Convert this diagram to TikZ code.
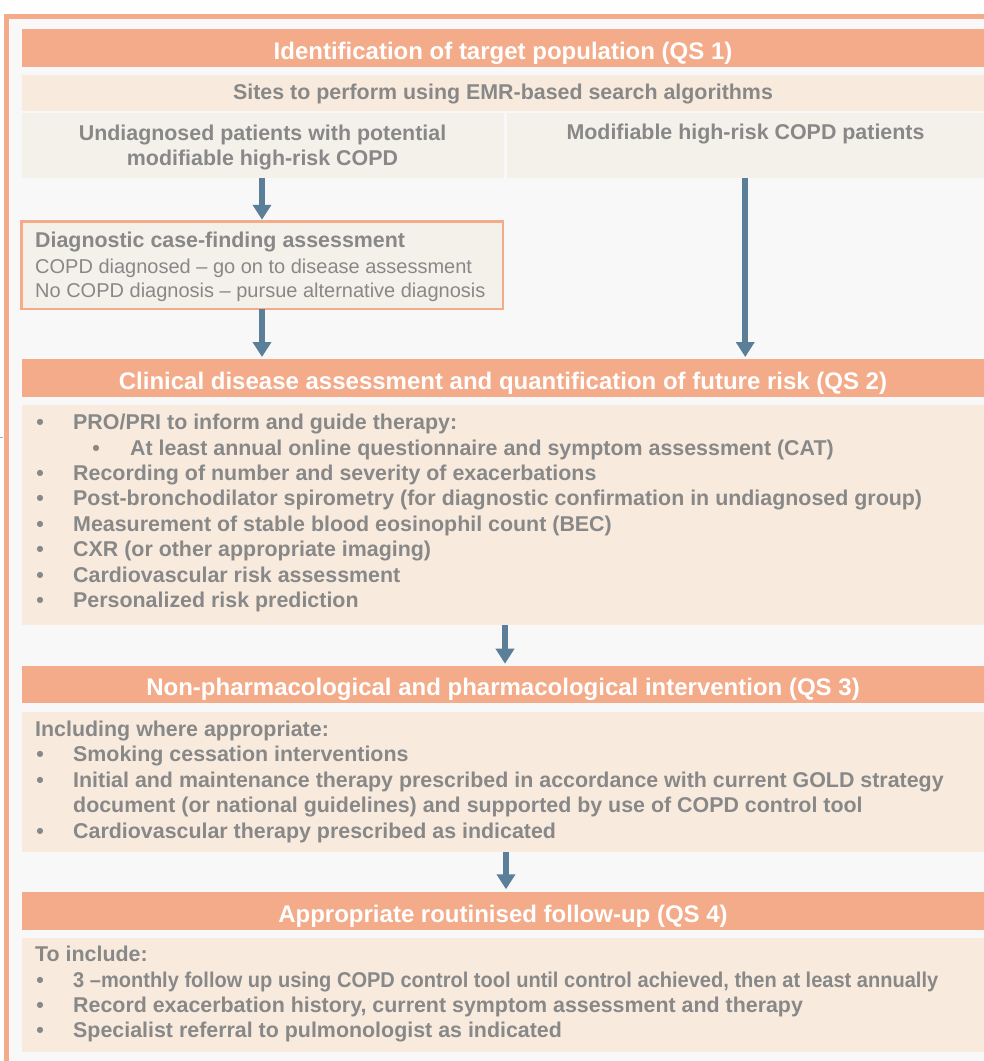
\documentclass[tikz,border=0pt]{standalone}
\usepackage{fontspec}
\setmainfont{Liberation Sans}
\usetikzlibrary{arrows.meta}
\definecolor{salmon}{HTML}{F4AB89}
\definecolor{peach}{HTML}{F8EBDE}
\definecolor{beige}{HTML}{F4F1EA}
\definecolor{txtgray}{HTML}{888888}
\definecolor{arrowblue}{HTML}{5B7F99}
\definecolor{bggray}{HTML}{F8F8F8}
\newcommand{\hdrfont}{\bfseries\fontsize{24}{28}\selectfont}
\newcommand{\bodyfont}{\bfseries\fontsize{21.4}{25}\selectfont}
\newcommand{\diagfont}{\fontsize{20}{24}\selectfont}
\tikzset{
  band/.style={fill=salmon, text=white, font=\hdrfont, inner sep=0, outer sep=0,
    anchor=north west, minimum width=962, text height=30, text depth=7.7},
  panel/.style={fill=peach, inner sep=0, outer sep=0, anchor=north west, minimum width=962},
  cell/.style={fill=beige, inner sep=0, outer sep=0, anchor=north west, minimum height=64.7},
  txtline/.style={text=txtgray, font=\bodyfont, inner sep=0, anchor=base west},
  ctrline/.style={text=txtgray, font=\bodyfont, inner sep=0, anchor=base},
  bul/.style={text=txtgray, font=\bodyfont, inner sep=0, anchor=base},
  diagline/.style={text=txtgray, font=\diagfont, inner sep=0, anchor=base west},
  arr/.style={draw=arrowblue, line width=6pt, -{Triangle[width=18pt,length=15pt]}},
}
\begin{document}
\begin{tikzpicture}[x=1pt,y=-1pt]
\useasboundingbox (0,0) rectangle (984,1061);
\fill[white] (0,0) rectangle (984,1061);
\fill[bggray] (6,16) rectangle (990,1070);
\draw[salmon, line width=5pt] (990,16) -- (6,16) -- (6,1070);
\draw[arrowblue!60, line width=0.8pt] (0,437) -- (2.5,437);

% QS1
\node[band] (h1) at (22,29.3) {Identification of target population (QS 1)};
\node[panel, font=\bodyfont, text=txtgray, text height=23.7, text depth=12] (sites) at (22,75.3) {Sites to perform using EMR-based search algorithms};
\node[cell, minimum width=481.5] (undiag) at (22,113) {};
\node[cell, minimum width=477.5] (modif) at (506.5,113) {};
\node[ctrline] (u1) at (262.5,140) {Undiagnosed patients with potential};
\node[ctrline] (u2) at (262.5,165.5) {modifiable high-risk COPD};
\node[ctrline] (m1) at (745.5,139.5) {Modifiable high-risk COPD patients};

% diagnostic box
\node[draw=salmon, line width=2.5pt, fill=beige, inner sep=0, outer sep=0, anchor=north west,
  minimum width=481.5, minimum height=87.5] (diag) at (21.25,221.25) {};
\node[diagline, font=\bodyfont] (d1) at (35,247.7) {Diagnostic case-finding assessment};
\node[diagline] (d2) at (35,273.3) {COPD diagnosed – go on to disease assessment};
\node[diagline] (d3) at (35,297.3) {No COPD diagnosis – pursue alternative diagnosis};

% QS2
\node[band] (h2) at (22,359) {Clinical disease assessment and quantification of future risk (QS 2)};
\node[panel, minimum height=220] (p2) at (22,405) {};
\node[bul] (b21) at (40,429.5) {\textbullet};
\node[txtline] (t21) at (73,429.5) {PRO/PRI to inform and guide therapy:};
\node[bul] (b22) at (96,455) {\textbullet};
\node[txtline] (t22) at (130,455) {At least annual online questionnaire and symptom assessment (CAT)};
\node[bul] (b23) at (40,480.4) {\textbullet};
\node[txtline] (t23) at (73,480.4) {Recording of number and severity of exacerbations};
\node[bul] (b24) at (40,505.8) {\textbullet};
\node[txtline] (t24) at (73,505.8) {Post-bronchodilator spirometry (for diagnostic confirmation in undiagnosed group)};
\node[bul] (b25) at (40,531.2) {\textbullet};
\node[txtline] (t25) at (73,531.2) {Measurement of stable blood eosinophil count (BEC)};
\node[bul] (b26) at (40,556.6) {\textbullet};
\node[txtline] (t26) at (73,556.6) {CXR (or other appropriate imaging)};
\node[bul] (b27) at (40,582) {\textbullet};
\node[txtline] (t27) at (73,582) {Cardiovascular risk assessment};
\node[bul] (b28) at (40,607.4) {\textbullet};
\node[txtline] (t28) at (73,607.4) {Personalized risk prediction};

% QS3
\node[band] (h3) at (22,665.7) {Non-pharmacological and pharmacological intervention (QS 3)};
\node[panel, minimum height=140.6] (p3) at (22,711.7) {};
\node[txtline] (t30) at (35,736) {Including where appropriate:};
\node[bul] (b31) at (40,761.5) {\textbullet};
\node[txtline] (t31) at (73,761.5) {Smoking cessation interventions};
\node[bul] (b32) at (40,787) {\textbullet};
\node[txtline] (t32) at (73,787) {Initial and maintenance therapy prescribed in accordance with current GOLD strategy};
\node[txtline] (t32b) at (73,812.5) {document (or national guidelines) and supported by use of COPD control tool};
\node[bul] (b33) at (40,838) {\textbullet};
\node[txtline] (t33) at (73,838) {Cardiovascular therapy prescribed as indicated};

% QS4
\node[band] (h4) at (22,892.3) {Appropriate routinised follow-up (QS 4)};
\node[panel, minimum height=114] (p4) at (22,938.3) {};
\node[txtline] (t40) at (35,961.7) {To include:};
\node[bul] (b41) at (40,987) {\textbullet};
\node[txtline] (t41) at (73,987) {\resizebox{865pt}{\height}{3 –monthly follow up using COPD control tool until control achieved, then at least annually}};
\node[bul] (b42) at (40,1012) {\textbullet};
\node[txtline] (t42) at (73,1012) {Record exacerbation history, current symptom assessment and therapy};
\node[bul] (b43) at (40,1037.5) {\textbullet};
\node[txtline] (t43) at (73,1037.5) {Specialist referral to pulmonologist as indicated};

% arrows
\draw[arr, shorten >=1.5pt] (undiag.south -| diag.north) -- (diag.north);
\draw[arr, shorten >=2pt] (diag.south) -- (diag.south |- h2.north);
\draw[arr, shorten >=2pt] (modif.south) -- (modif.south |- h2.north);
\draw[arr, shorten >=2pt] ([xshift=2pt]p2.south) -- ([xshift=2pt]p2.south |- h3.north);
\draw[arr, shorten >=3pt] ([xshift=3pt]p3.south) -- ([xshift=3pt]p3.south |- h4.north);
\end{tikzpicture}
\end{document}
